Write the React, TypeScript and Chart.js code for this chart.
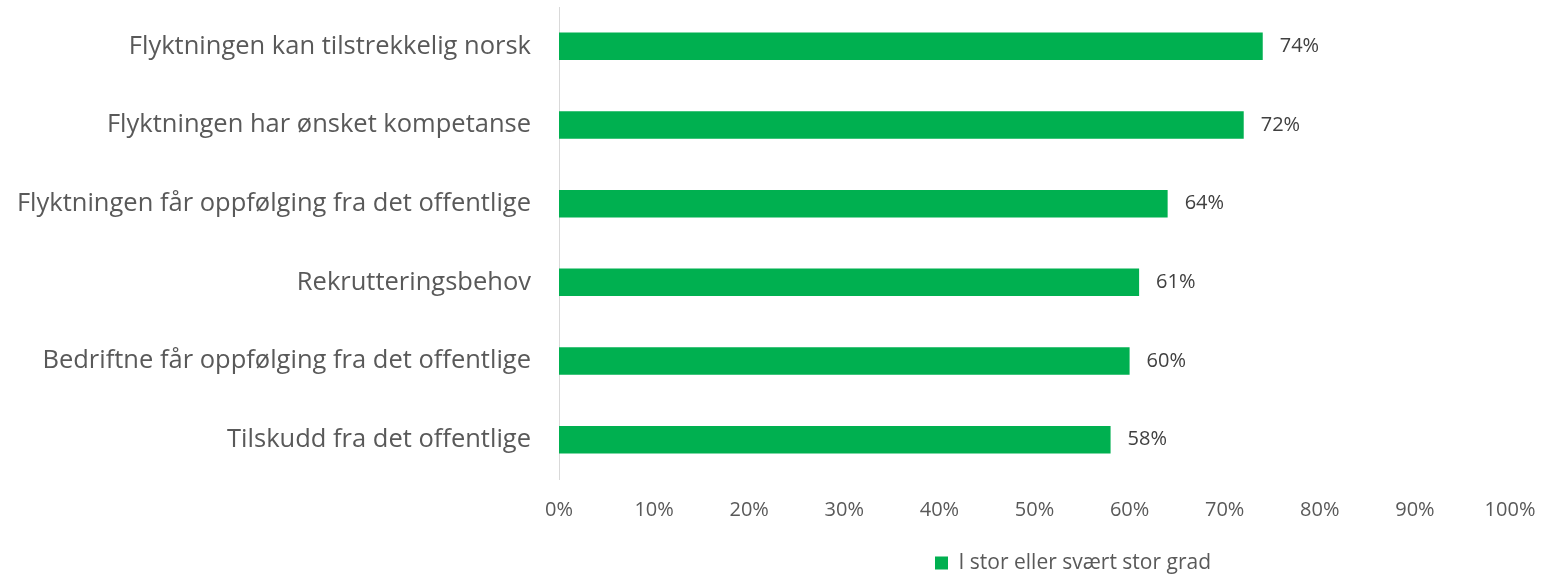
import React, { useEffect, useRef } from "react";
import { Chart, registerables } from "chart.js";

Chart.register(...registerables);

const categories = [
  "Flyktningen kan tilstrekkelig norsk",
  "Flyktningen har ønsket kompetanse",
  "Flyktningen får oppfølging fra det offentlige",
  "Rekrutteringsbehov",
  "Bedriftne får oppfølging fra det offentlige",
  "Tilskudd fra det offentlige",
];
const values = [74, 72, 64, 61, 60, 58];
const seriesLabel = "I stor eller svært stor grad";
const xTicks = [0, 10, 20, 30, 40, 50, 60, 70, 80, 90, 100];

const FONT = "'Open Sans', sans-serif";
const GREEN = "#00B050";
const TEXT = "#595959";
const LEGEND_SIZE = 21;

const dataLabelPlugin = {
  id: "dataLabels",
  afterDatasetsDraw(chart: any) {
    const ctx = chart.ctx;
    const meta = chart.getDatasetMeta(0);
    ctx.save();
    ctx.font = `20px ${FONT}`;
    ctx.fillStyle = "#404040";
    ctx.textAlign = "left";
    ctx.textBaseline = "middle";
    meta.data.forEach((bar: any, i: number) => {
      ctx.fillText(`${values[i]}%`, bar.x + 17, bar.y);
    });
    ctx.restore();
  },
};

const legendPlacePlugin = {
  id: "legendPlace",
  afterLayout(chart: any) {
    const lg = chart.legend;
    if (!lg) return;
    const pad = lg.options.labels.padding;
    const left = 935 - pad;
    const top = 563 - pad - LEGEND_SIZE / 2;
    const w = lg.width;
    const h = lg.height;
    lg.left = left;
    lg.right = left + w;
    lg.top = top;
    lg.bottom = top + h;
  },
};

export default function App() {
  const ref = useRef<HTMLCanvasElement | null>(null);
  useEffect(() => {
    document.body.style.margin = "0";
    const chart = new Chart(ref.current as HTMLCanvasElement, {
      type: "bar",
      data: {
        labels: categories,
        datasets: [
          {
            label: seriesLabel,
            data: values,
            backgroundColor: GREEN,
            borderWidth: 0,
            barPercentage: 0.35,
            categoryPercentage: 1,
          },
        ],
      },
      options: {
        indexAxis: "y",
        responsive: false,
        animation: false,
        devicePixelRatio: 1,
        layout: { padding: { left: 0, right: 35, top: 7, bottom: 0 } },
        plugins: {
          tooltip: { enabled: false },
          legend: {
            display: true,
            position: "bottom",
            align: "start",
            labels: {
              boxWidth: 13,
              boxHeight: 13,
              padding: 5,
              color: TEXT,
              font: { family: FONT, size: LEGEND_SIZE },
            },
          },
        },
        scales: {
          x: {
            min: 0,
            max: 100,
            afterBuildTicks(scale: any) {
              scale.ticks = xTicks.map((v) => ({ value: v }));
            },
            afterFit(scale: any) {
              const lh = scale.chart.legend ? scale.chart.legend.height : 30;
              scale.height = 574 - 479 - lh;
              scale.paddingLeft = 0;
              scale.paddingRight = 0;
            },
            grid: { display: false, drawTicks: false },
            border: { display: false },
            ticks: {
              padding: 19,
              color: TEXT,
              font: { family: FONT, size: 20 },
              maxRotation: 0,
              callback: (v: any) => `${v}%`,
            },
          },
          y: {
            afterFit(scale: any) {
              scale.width = 559;
              scale.paddingTop = 0;
              scale.paddingBottom = 0;
            },
            grid: { display: false, drawTicks: false },
            border: { display: true, color: "#D9D9D9", width: 1 },
            ticks: {
              padding: 28,
              color: TEXT,
              font: { family: FONT, size: 25.5 },
            },
          },
        },
      },
      plugins: [dataLabelPlugin, legendPlacePlugin],
    });
    return () => chart.destroy();
  }, []);
  return (
    <div style={{ position: "absolute", left: 0, top: 0, width: 1545, height: 574 }}>
      <canvas ref={ref} width={1545} height={574} />
    </div>
  );
}
